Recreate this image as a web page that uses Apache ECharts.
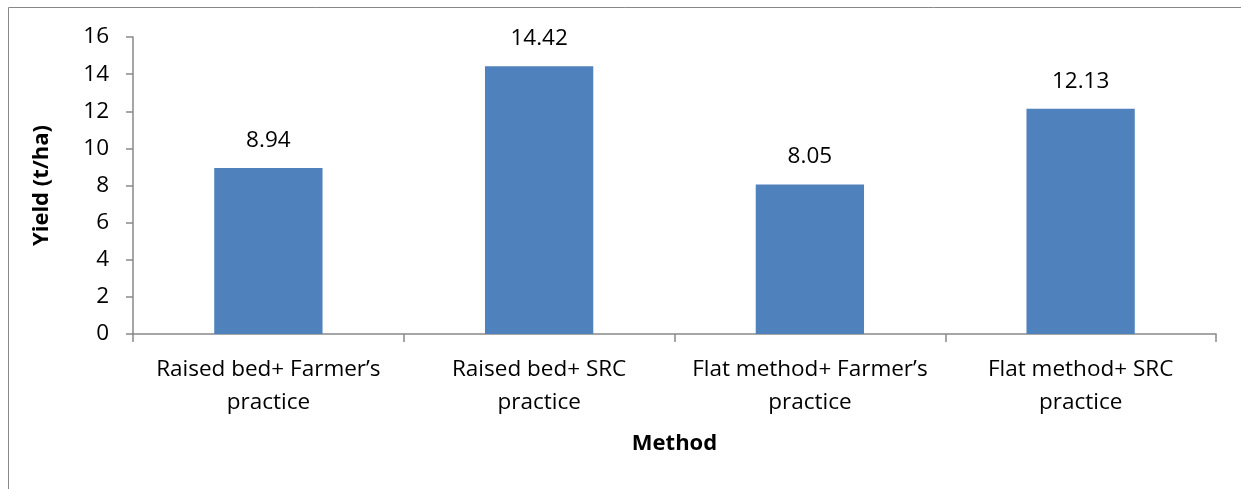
<!DOCTYPE html>
<html><head><meta charset="utf-8">
<script src="https://cdn.jsdelivr.net/npm/echarts@6/dist/echarts.min.js"></script>
<style>html,body{margin:0;padding:0;background:#fff}#c{width:1241px;height:489px}</style>
</head><body><div id="c"></div>
<script>
const categories = ["Raised bed+ Farmer\u2019s\npractice", "Raised bed+ SRC\npractice", "Flat method+ Farmer\u2019s\npractice", "Flat method+ SRC\npractice"];
const yields = [8.94, 14.42, 8.05, 12.13];
const yTicks = [0, 2, 4, 6, 8, 10, 12, 14, 16];

const chart = echarts.init(document.getElementById('c'));
const font = "'Open Sans', 'Liberation Sans', sans-serif";
const axisColor = '#898989';
chart.setOption({
  animation: false,
  graphic: [{
    type: 'rect', shape: {x: 8.5, y: 7.5, width: 1240, height: 500},
    style: {fill: 'none', stroke: '#888', lineWidth: 1}, silent: true
  }],
  grid: {left: 133, right: 25, top: 37, bottom: 155},
  xAxis: {
    type: 'category', data: categories,
    name: 'Method', nameLocation: 'middle', nameGap: 99,
    nameTextStyle: {fontFamily: font, fontSize: 22, fontWeight: 'bold', color: '#000'},
    axisLine: {lineStyle: {color: axisColor, width: 1.5}},
    axisTick: {show: true, alignWithLabel: false, length: 8, lineStyle: {color: axisColor, width: 1.5}},
    axisLabel: {fontFamily: font, fontSize: 22.5, color: '#000', lineHeight: 33, margin: 19, interval: 0}
  },
  yAxis: {
    type: 'value', min: yTicks[0], max: yTicks[yTicks.length - 1], interval: 2,
    name: 'Yield (t/ha)', nameLocation: 'middle', nameGap: 80, nameRotate: 90,
    nameTextStyle: {fontFamily: font, fontSize: 22, fontWeight: 'bold', color: '#000'},
    axisLine: {show: true, lineStyle: {color: axisColor, width: 1.5}},
    axisTick: {show: true, inside: false, length: 7, lineStyle: {color: axisColor, width: 1.5}},
    splitLine: {show: false},
    axisLabel: {fontFamily: font, fontSize: 22.5, color: '#000', margin: 24}
  },
  series: [{
    type: 'bar', data: yields, barWidth: '40%',
    itemStyle: {color: '#4F81BD'},
    label: {show: true, position: 'top', distance: 16, fontFamily: font, fontSize: 22.5, color: '#000',
      formatter: p => p.value.toFixed(2)}
  }]
});
</script></body></html>
